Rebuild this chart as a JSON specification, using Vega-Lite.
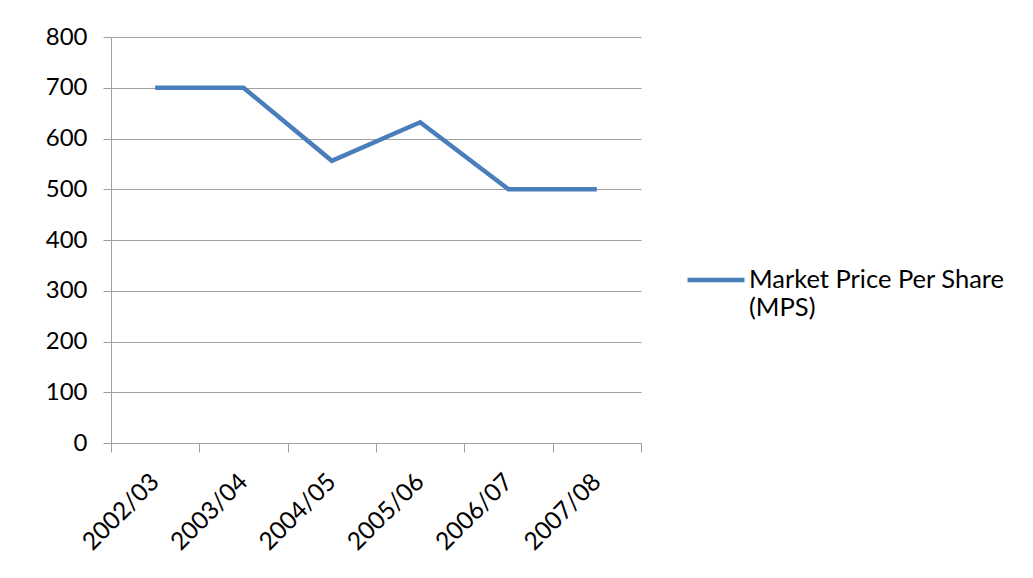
{
  "$schema": "https://vega.github.io/schema/vega-lite/v6.json",
  "width": 530,
  "height": 406,
  "autosize": {"type": "none"},
  "padding": {"left": 111, "top": 37, "right": 392, "bottom": 135},
  "background": "white",
  "config": {"view": {"stroke": null}, "font": "Lato"},
  "data": {
    "values": [
      {"year": "2002/03", "mps": 700},
      {"year": "2003/04", "mps": 700},
      {"year": "2004/05", "mps": 556},
      {"year": "2005/06", "mps": 632},
      {"year": "2006/07", "mps": 500},
      {"year": "2007/08", "mps": 500}
    ]
  },
  "mark": {"type": "line", "strokeWidth": 4.5, "strokeJoin": "miter"},
  "encoding": {
    "x": {
      "field": "year",
      "type": "nominal",
      "sort": null,
      "bandPosition": 0.5,
      "scale": {"type": "band", "paddingInner": 0, "paddingOuter": 0},
      "axis": {
        "title": null,
        "tickBand": "extent",
        "grid": false,
        "domainColor": "#a0a0a0",
        "tickColor": "#a0a0a0",
        "tickSize": 9,
        "labelAngle": -45,
        "labelAlign": "right",
        "labelBaseline": "middle",
        "labelPadding": 26,
        "labelFontSize": 24.5,
        "labelColor": "#000000",
        "labelFont": "Lato"
      }
    },
    "y": {
      "field": "mps",
      "type": "quantitative",
      "scale": {"domain": [0, 800], "nice": false},
      "axis": {
        "title": null,
        "values": [0, 100, 200, 300, 400, 500, 600, 700, 800],
        "grid": true,
        "gridColor": "#a0a0a0",
        "gridWidth": 1,
        "domainColor": "#a0a0a0",
        "tickColor": "#a0a0a0",
        "tickSize": 8,
        "labelPadding": 16,
        "labelFontSize": 24,
        "labelColor": "#000000",
        "labelFont": "Lato"
      }
    },
    "color": {
      "datum": "Market Price Per Share (MPS)",
      "type": "nominal",
      "scale": {"range": ["#4a7ebb"]},
      "legend": {
        "title": null,
        "orient": "none",
        "legendX": 574,
        "legendY": 212,
        "padding": 0,
        "symbolType": "stroke",
        "symbolSize": 3249,
        "symbolStrokeWidth": 4.5,
        "labelOffset": 2,
        "labelLimit": 0,
        "labelFontSize": 25.5,
        "labelLineHeight": 36,
        "labelColor": "#000000",
        "labelFont": "Lato",
        "labelExpr": "['Market Price Per Share', '(MPS)']"
      }
    }
  }
}
